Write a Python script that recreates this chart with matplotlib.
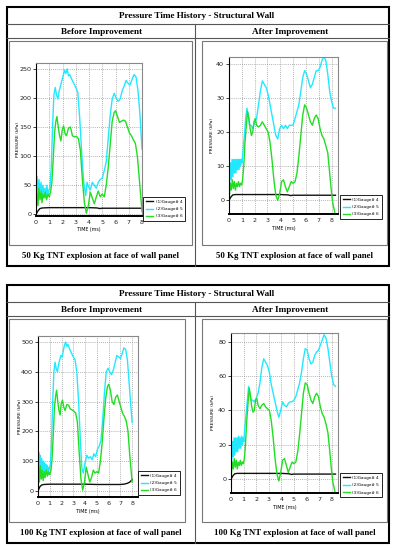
import numpy as np
import matplotlib
matplotlib.use("Agg")
import matplotlib.pyplot as plt
from matplotlib.patches import Rectangle

W, H = 393, 550

# ---- data (time in ms, pressure in kPa) ----
labels = ["(1)Gauge# 4", "(2)Gauge# 5", "(3)Gauge# 6"]
colors = ["#111111", "#22e8ff", "#22dd22"]

# 50 kg, before improvement
t50b_g5 = [0, 0.08, 0.15, 0.22, 0.3, 0.38, 0.45, 0.52, 0.6, 0.68,
           0.75, 0.82, 0.9, 0.98, 1.05, 1.15, 1.25, 1.35, 1.45, 1.55,
           1.65, 1.75, 1.9, 2.05, 2.15, 2.25, 2.35, 2.45, 2.55, 2.7,
           2.85, 3.0, 3.15, 3.3, 3.45, 3.6, 3.75, 3.85, 3.95, 4.1,
           4.25, 4.4, 4.55, 4.7, 4.85, 5.0, 5.15, 5.3, 5.45, 5.6,
           5.75, 5.9, 6.05, 6.2, 6.35, 6.5, 6.65, 6.8, 6.95, 7.1,
           7.25, 7.4, 7.55, 7.7, 7.85, 8.0]
p50b_g5 = [0, 65, 35, 60, 40, 55, 30, 50, 35, 45,
           28, 50, 35, 42, 45, 80, 150, 205, 218, 205,
           198, 212, 225, 238, 248, 242, 250, 238, 240, 232,
           225, 218, 210, 165, 105, 55, 32, 55, 48, 42,
           55, 50, 45, 55, 60, 62, 75, 90, 130, 170,
           198, 208, 200, 194, 198, 212, 220, 230, 225, 222,
           232, 240, 236, 212, 170, 112]
t50b_g6 = [0, 0.08, 0.15, 0.22, 0.3, 0.38, 0.45, 0.52, 0.6, 0.7,
           0.8, 0.9, 1.0, 1.1, 1.2, 1.3, 1.4, 1.5, 1.58, 1.68,
           1.78, 1.88, 1.98, 2.08, 2.2, 2.3, 2.45, 2.6, 2.75, 2.9,
           3.05, 3.2, 3.35, 3.5, 3.65, 3.8, 3.95, 4.1, 4.25, 4.4,
           4.55, 4.7, 4.85, 5.0, 5.15, 5.3, 5.45, 5.6, 5.75, 5.9,
           6.0, 6.15, 6.3, 6.45, 6.6, 6.75, 6.9, 7.05, 7.2, 7.35,
           7.5, 7.65, 7.8, 8.0]
p50b_g6 = [0, 35, 15, 45, 25, 40, 20, 35, 28, 38,
           25, 35, 30, 38, 55, 95, 140, 160, 168, 150,
           135, 126, 145, 152, 138, 135, 148, 150, 135, 133,
           134, 130, 110, 60, 20, 2, 15, 38, 28, 18,
           30, 40, 30, 35, 30, 50, 80, 120, 160, 175,
           178, 168, 158, 160, 162, 160, 150, 140, 135, 128,
           122, 100, 60, 5]
t50b_g4 = [0, 0.15, 0.3, 0.5, 1.0, 2.0, 3.0, 4.0, 4.6, 4.8, 5.0, 6.0, 7.0, 8.0]
p50b_g4 = [0, 6, 10, 11, 11.5, 11.5, 11.5, 11.5, 11, 10, 10.5, 10.5, 10.5, 10.5]

# 50 kg, after improvement
t50a_g5 = [0, 0.06, 0.12, 0.18, 0.24, 0.3, 0.36, 0.42, 0.48, 0.54,
           0.6, 0.66, 0.72, 0.78, 0.84, 0.9, 0.96, 1.02, 1.1, 1.2,
           1.3, 1.4, 1.5, 1.6, 1.72, 1.85, 2.0, 2.15, 2.3, 2.45,
           2.6, 2.75, 2.9, 3.05, 3.2, 3.35, 3.5, 3.65, 3.8, 3.95,
           4.1, 4.25, 4.4, 4.55, 4.7, 4.85, 5.0, 5.15, 5.3, 5.45,
           5.6, 5.75, 5.9, 6.05, 6.2, 6.35, 6.5, 6.65, 6.8, 6.95,
           7.1, 7.25, 7.4, 7.55, 7.7, 7.85, 8.0, 8.15, 8.3]
p50a_g5 = [0, 6, 11, 6, 12, 7, 12, 8, 12, 8,
           12, 9, 12, 9, 12, 10, 12, 11, 15, 19,
           24, 27, 25, 22, 22, 21, 23, 24, 28, 32,
           35, 34, 33, 31, 28, 25, 22, 19, 18, 21,
           22, 21, 22, 21, 22, 22, 22, 24, 26, 28,
           32, 36, 38, 37, 35, 33, 34, 36, 38, 38,
           39, 41, 42, 41, 37, 32, 29, 27, 27]
t50a_g6 = [0, 0.1, 0.18, 0.26, 0.34, 0.42, 0.5, 0.58, 0.66, 0.74,
           0.82, 0.9, 0.98, 1.06, 1.15, 1.25, 1.35, 1.45, 1.55, 1.65,
           1.75, 1.85, 1.95, 2.05, 2.15, 2.3, 2.45, 2.6, 2.75, 2.9,
           3.05, 3.2, 3.35, 3.5, 3.65, 3.8, 3.95, 4.1, 4.25, 4.4,
           4.55, 4.7, 4.85, 5.0, 5.15, 5.3, 5.45, 5.6, 5.75, 5.9,
           6.05, 6.2, 6.35, 6.5, 6.65, 6.8, 6.95, 7.1, 7.25, 7.4,
           7.55, 7.7, 7.85, 8.0, 8.1, 8.25]
p50a_g6 = [0, 5, 3, 6, 3.5, 5.5, 3, 5, 4, 5.5,
           4, 5, 4.5, 6, 10, 17, 22, 26, 24, 21,
           19, 20, 23, 24, 22, 21.5, 22, 23, 22, 21,
           20, 17, 12, 6, 1.5, 0, 2, 5.5, 6, 4,
           2.5, 4, 5.5, 5, 5.5, 8, 13, 19, 25, 28,
           27, 25, 23, 22, 24, 25, 24, 21, 19, 18,
           16, 14, 8, 2, -1, -3.5]
t50a_g4 = [0, 0.15, 0.3, 0.5, 1.0, 2.0, 3.0, 4.0, 4.6, 4.8, 5.0, 6.0, 7.0, 8.0, 8.3]
p50a_g4 = [0, 1.0, 1.6, 1.7, 1.7, 1.7, 1.7, 1.7, 1.6, 1.4, 1.5, 1.5, 1.5, 1.5, 1.5]

# 100 kg, before improvement
t100b_g5 = [0, 0.06, 0.12, 0.18, 0.24, 0.3, 0.36, 0.42, 0.48, 0.54,
            0.6, 0.66, 0.72, 0.78, 0.84, 0.9, 0.96, 1.05, 1.15, 1.25,
            1.35, 1.45, 1.55, 1.65, 1.75, 1.85, 1.95, 2.05, 2.15, 2.25,
            2.35, 2.45, 2.55, 2.7, 2.85, 3.0, 3.15, 3.3, 3.45, 3.6,
            3.72, 3.85, 4.0, 4.15, 4.3, 4.45, 4.6, 4.75, 4.9, 5.05,
            5.2, 5.35, 5.5, 5.65, 5.8, 5.95, 6.1, 6.25, 6.4, 6.55,
            6.7, 6.85, 7.0, 7.15, 7.3, 7.45, 7.6, 7.75, 7.9, 8.0]
p100b_g5 = [0, 130, 70, 120, 60, 110, 55, 100, 65, 95,
            50, 90, 60, 85, 55, 80, 70, 90, 160, 300,
            400, 432, 410, 400, 425, 440, 455, 450, 470, 490,
            500, 485, 492, 475, 462, 450, 440, 400, 300, 170,
            80, 60, 95, 120, 110, 115, 105, 125, 115, 140,
            150, 170, 240, 330, 400, 412, 400, 390, 405, 430,
            455, 450, 445, 460, 480, 475, 440, 360, 280, 230]
t100b_g6 = [0, 0.06, 0.12, 0.2, 0.28, 0.36, 0.44, 0.52, 0.6, 0.7,
            0.8, 0.9, 1.0, 1.1, 1.2, 1.3, 1.4, 1.5, 1.58, 1.68,
            1.78, 1.88, 1.98, 2.08, 2.2, 2.3, 2.45, 2.6, 2.75, 2.9,
            3.05, 3.2, 3.35, 3.5, 3.65, 3.8, 3.95, 4.1, 4.25, 4.4,
            4.55, 4.7, 4.85, 5.0, 5.15, 5.3, 5.45, 5.6, 5.75, 5.9,
            6.0, 6.15, 6.3, 6.45, 6.6, 6.75, 6.9, 7.05, 7.2, 7.35,
            7.5, 7.65, 7.8, 8.0]
p100b_g6 = [0, 75, 30, 85, 40, 70, 35, 65, 45, 70,
            50, 65, 55, 68, 110, 190, 280, 320, 338, 300,
            270, 255, 295, 305, 280, 270, 290, 288, 275, 272,
            268, 262, 230, 130, 40, 3, 30, 80, 55, 30,
            45, 70, 60, 65, 60, 100, 160, 240, 310, 350,
            358, 340, 300, 290, 315, 322, 300, 280, 260, 250,
            235, 200, 120, 30]
t100b_g4 = [0, 0.15, 0.3, 0.5, 1.0, 2.0, 3.0, 4.0, 5.0, 6.0, 7.0, 7.3, 7.6, 7.8, 8.0]
p100b_g4 = [0, 14, 20, 22, 23, 23, 23, 23, 22, 22, 22, 23, 26, 30, 38]

# 100 kg, after improvement
t100a_g5 = t50a_g5
p100a_g5 = [0, 12, 22, 13, 24, 14, 24, 16, 24, 16,
            25, 18, 24, 18, 25, 20, 24, 22, 30, 38,
            46, 54, 50, 46, 46, 45, 47, 50, 56, 65,
            70, 68, 66, 62, 55, 50, 45, 40, 36, 40,
            45, 43, 42, 44, 45, 45, 46, 48, 52, 56,
            62, 70, 76, 75, 70, 67, 68, 72, 74, 75,
            78, 81, 84, 82, 76, 68, 60, 55, 54]
t100a_g6 = t50a_g6
p100a_g6 = [0, 10, 6, 12, 7, 11, 6, 10, 8, 11,
            8, 10, 9, 12, 20, 34, 44, 53, 48, 42,
            39, 40, 46, 47, 43, 41, 43, 44, 42, 41,
            40, 34, 24, 12, 3, -1, 4, 11, 12, 8,
            4, 7, 10, 9, 10, 16, 26, 38, 50, 56,
            55, 50, 46, 44, 48, 50, 48, 42, 38, 36,
            32, 27, 16, 4, -2, -7]
t100a_g4 = t50a_g4
p100a_g4 = [0, 2, 3.2, 3.4, 3.4, 3.4, 3.4, 3.4, 3.2, 2.8, 3.0, 3.0, 3.0, 3.0, 3.0]

title = "Pressure Time History - Structural Wall"
cap50 = "50 Kg TNT explosion at face of wall panel"
cap100 = "100 Kg TNT explosion at face of wall panel"

fig = plt.figure(figsize=(W / 100, H / 100), dpi=100)

# background layer in pixel coordinates for the table frame
bg = fig.add_axes([0, 0, 1, 1])
bg.set_xlim(0, W)
bg.set_ylim(H, 0)
bg.axis("off")

serif = dict(family="Liberation Serif", fontweight="bold", fontsize=6.6)


def block(top, bottom, caption):
    # outer frame, header rows, column divider, picture boxes
    bg.add_patch(Rectangle((7, top), 382, bottom - top, fill=False, lw=1.5, ec="black"))
    bg.plot([7, 389], [top + 17, top + 17], color="#555555", lw=0.8)
    bg.plot([7, 389], [top + 31, top + 31], color="#555555", lw=0.8)
    bg.plot([195, 195], [top + 17, bottom], color="#555555", lw=0.8)
    bg.text(197, top + 9, title, ha="center", va="center", **serif)
    bg.text(102, top + 24.5, "Before Improvement", ha="center", va="center", **serif)
    bg.text(290, top + 24.5, "After Improvement", ha="center", va="center", **serif)
    bg.add_patch(Rectangle((9, top + 34), 183 if top < 100 else 176, bottom - top - 55,
                           fill=False, lw=0.8, ec="#777777"))
    bg.add_patch(Rectangle((202, top + 34), 185, bottom - top - 55,
                           fill=False, lw=0.8, ec="#777777"))
    cap = dict(serif, fontsize=6.3)
    bg.text(101, bottom - 10, caption, ha="center", va="center", **cap)
    bg.text(295, bottom - 10, caption, ha="center", va="center", **cap)


block(7, 266, cap50)
block(285, 543, cap100)


def panel(box, series, xlim, ylim, yticks, leg, ylab_x):
    x0, y0, x1, y1 = box
    ax = fig.add_axes([x0 / W, 1 - y1 / H, (x1 - x0) / W, (y1 - y0) / H])
    for (t, p), c, lab in zip(series, colors, labels):
        ax.plot(t, p, color=c, lw=1.0, label=lab)
    ax.set_xlim(*xlim)
    ax.set_ylim(*ylim)
    ax.set_xticks(range(0, 9))
    ax.set_yticks(yticks)
    ax.grid(True, color="#999999", ls=(0, (1, 1.5)), lw=0.6)
    ax.tick_params(labelsize=4.6, length=2, width=0.6, pad=1.5, colors="#222222")
    ax.tick_params(axis="x", length=0, pad=3)
    for s in ["top", "right"]:
        ax.spines[s].set_color("#888888")
        ax.spines[s].set_linewidth(0.8)
    ax.spines["left"].set_linewidth(0.8)
    ax.spines["bottom"].set_linewidth(1.4)
    ax.set_xlabel("TIME (ms)", fontsize=3.4, labelpad=2)
    fig.text(ylab_x / W, 1 - (y0 + y1) / 2 / H, "PRESSURE (kPa)", rotation=90,
             fontsize=3.2, ha="center", va="center")
    lx0, ly1 = leg
    lg = ax.legend(loc="lower left", bbox_to_anchor=(lx0 / W, 1 - ly1 / H),
                   bbox_transform=fig.transFigure, fontsize=3.0, frameon=True,
                   fancybox=False, edgecolor="black", framealpha=1,
                   handlelength=1.9, labelspacing=0.8, borderpad=0.6,
                   handletextpad=0.5, borderaxespad=0)
    lg.get_frame().set_linewidth(0.6)
    return ax


panel((36, 63, 142, 215.5),
      [(t50b_g4, p50b_g4), (t50b_g5, p50b_g5), (t50b_g6, p50b_g6)],
      (0, 8), (-2, 260), [0, 50, 100, 150, 200, 250], (143, 221), 18)
panel((229, 57, 338, 214),
      [(t50a_g4, p50a_g4), (t50a_g5, p50a_g5), (t50a_g6, p50a_g6)],
      (0, 8.5), (-4, 42), [0, 10, 20, 30, 40], (340, 219), 212)
panel((38, 336, 138, 497),
      [(t100b_g4, p100b_g4), (t100b_g5, p100b_g5), (t100b_g6, p100b_g6)],
      (0, 8.5), (-20, 520), [0, 100, 200, 300, 400, 500], (138, 495), 20)
panel((231, 333, 338, 493),
      [(t100a_g4, p100a_g4), (t100a_g5, p100a_g5), (t100a_g6, p100a_g6)],
      (0, 8.5), (-8, 85), [0, 20, 40, 60, 80], (340, 497), 213)

fig.savefig("out.png", dpi=100)
